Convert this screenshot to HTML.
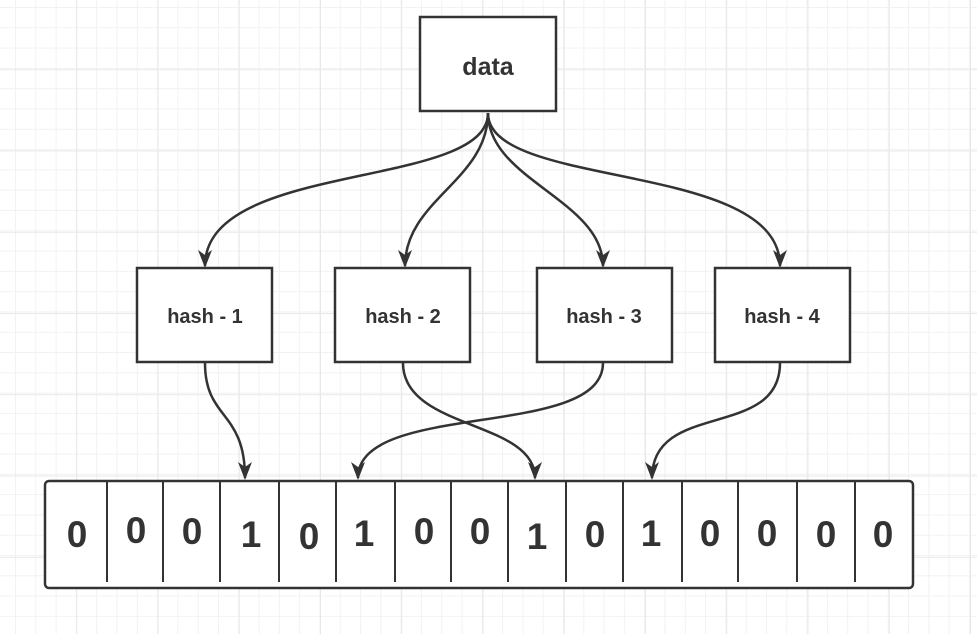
<!DOCTYPE html>
<html><head><style>
body{margin:0;width:977px;height:634px;overflow:hidden;background:#fff;
background-image:linear-gradient(#e8e8e8 1px,transparent 1px),linear-gradient(90deg,#e8e8e8 1px,transparent 1px),linear-gradient(#f2f2f2 1px,transparent 1px),linear-gradient(90deg,#f2f2f2 1px,transparent 1px);
background-size:81.25px 81.25px,81.25px 81.25px,20.3px 20.3px,20.3px 20.3px;
background-position:0 -12px,-5px 0,0 7px,15px 0;font-family:"Liberation Sans",sans-serif;}
</style></head><body>
<svg width="977" height="634" style="position:absolute;left:0;top:0">
<defs>
<marker id="b" markerWidth="18" markerHeight="14" refX="16" refY="7" orient="auto" markerUnits="userSpaceOnUse" viewBox="0 0 18 14"><path d="M0,0 L18,7 L0,14 L5,7 Z" fill="#333"/></marker></defs>
<g fill="none" stroke="#333" stroke-width="2.5">
<path d="M488,113 C488,190 205,160 205,266" marker-end="url(#b)"/>
<path d="M488,113 C488,180 405,200 405,266" marker-end="url(#b)"/>
<path d="M488,113 C488,180 603,200 603,266" marker-end="url(#b)"/>
<path d="M488,113 C488,190 780,160 780,266" marker-end="url(#b)"/>
<path d="M205,363 C205,420 245,410 245,478" marker-end="url(#b)"/>
<path d="M403,363 C403,430 535,420 535,478" marker-end="url(#b)"/>
<path d="M603,363 C603,440 358,400 358,478" marker-end="url(#b)"/>
<path d="M780,363 C780,440 652,400 652,478" marker-end="url(#b)"/>
</g>
<g fill="#fff" stroke="#333" stroke-width="2.5">
<rect x="420" y="17" width="136" height="94"/>
<rect x="137" y="268" width="135" height="94"/>
<rect x="335" y="268" width="135" height="94"/>
<rect x="537" y="268" width="135" height="94"/>
<rect x="715" y="268" width="135" height="94"/>
<rect x="45" y="481" width="868" height="107" rx="4"/>
</g>
<g stroke="#333" stroke-width="2">
<line x1="107" y1="481" x2="107" y2="582"/><line x1="163" y1="481" x2="163" y2="582"/><line x1="220" y1="481" x2="220" y2="582"/><line x1="279" y1="481" x2="279" y2="582"/><line x1="336" y1="481" x2="336" y2="582"/><line x1="395" y1="481" x2="395" y2="582"/><line x1="451" y1="481" x2="451" y2="582"/><line x1="508" y1="481" x2="508" y2="582"/><line x1="566" y1="481" x2="566" y2="582"/><line x1="623" y1="481" x2="623" y2="582"/><line x1="682" y1="481" x2="682" y2="582"/><line x1="738" y1="481" x2="738" y2="582"/><line x1="797" y1="481" x2="797" y2="582"/><line x1="855" y1="481" x2="855" y2="582"/>
</g>
<g fill="#333" font-weight="bold" text-anchor="middle" font-family="Liberation Sans,sans-serif">
<text x="488" y="75" font-size="25">data</text>
<text x="205" y="323" font-size="20">hash - 1</text>
<text x="403" y="323" font-size="20">hash - 2</text>
<text x="604" y="323" font-size="20">hash - 3</text>
<text x="782" y="323" font-size="20">hash - 4</text>
<g font-size="37">
<text x="77" y="547">0</text><text x="136" y="543">0</text><text x="192" y="544">0</text><text x="251" y="547">1</text><text x="309" y="549">0</text><text x="364" y="546">1</text><text x="424" y="544">0</text><text x="480" y="544">0</text><text x="537" y="549">1</text><text x="595" y="547">0</text><text x="651" y="546">1</text><text x="710" y="546">0</text><text x="767" y="546">0</text><text x="826" y="547">0</text><text x="883" y="547">0</text>
</g></g>
</svg>
</body></html>
